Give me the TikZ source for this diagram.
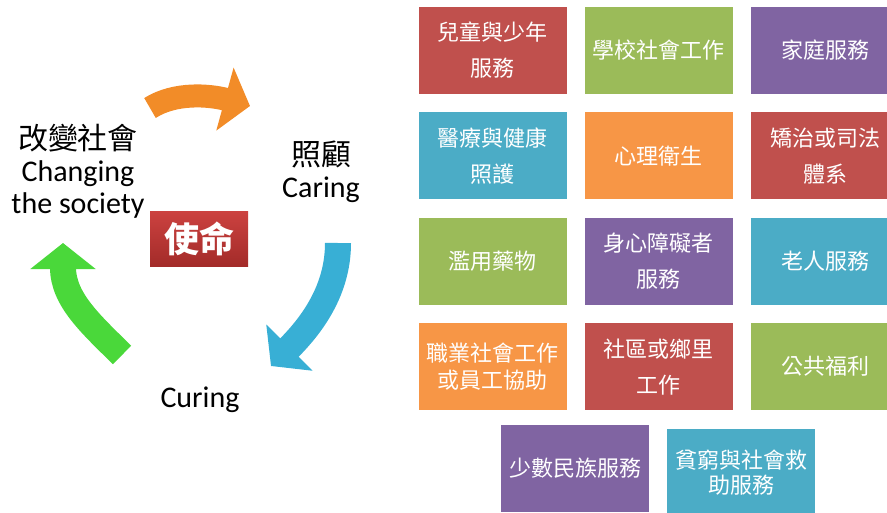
\documentclass[tikz,border=0pt]{standalone}
\usepackage{fontspec}
\setmainfont{Carlito}
\newfontfamily\cjk{Noto Sans CJK TC}
\usepackage{xcolor}
\usetikzlibrary{positioning,arrows.meta}

\definecolor{cred}{HTML}{C0504D}
\definecolor{cgreen}{HTML}{9BBB59}
\definecolor{cpurple}{HTML}{8064A2}
\definecolor{cteal}{HTML}{4BACC6}
\definecolor{corange}{HTML}{F79646}
\definecolor{arrorange}{HTML}{F28C28}
\definecolor{arrgreen}{HTML}{4AD83A}
\definecolor{arrblue}{HTML}{38AFD5}
\definecolor{misstop}{HTML}{CC4240}
\definecolor{missbot}{HTML}{A32B29}

\tikzset{
    box/.style={minimum width=148pt, minimum height=87pt, inner sep=0pt,
        text=white, align=center, font=\cjk\fontsize{22}{36}\selectfont},
    label/.style={align=center, font=\fontsize{30}{32}\selectfont},
    bigarrow/.style={line width=26pt, -{Triangle[width=64pt,length=26pt]}},
}

\begin{document}
\begin{tikzpicture}[x=1pt,y=-1pt]
        \clip (0,0) rectangle (887,512);
        % service fields
        \node (kids) [box, fill=cred] at (492.5,50.5) {兒童與少年\\服務};
        \node (school) [box, fill=cgreen, right = 18pt of kids] {學校社會工作};
        \node (family) [box, fill=cpurple, right = 18pt of school] {家庭服務};
        \node (medical) [box, fill=cteal, below = 18pt of kids] {醫療與健康\\照護};
        \node (mental) [box, fill=corange, right = 18pt of medical] {心理衛生};
        \node (justice) [box, fill=cred, right = 18pt of mental] {矯治或司法\\體系};
        \node (drugs) [box, fill=cgreen, below = 18pt of medical] {濫用藥物};
        \node (disabled) [box, fill=cpurple, right = 18pt of drugs] {身心障礙者\\服務};
        \node (elderly) [box, fill=cteal, right = 18pt of disabled] {老人服務};
        \node (career) [box, fill=corange, below = 18pt of drugs,
            font=\cjk\fontsize{22}{27}\selectfont] {職業社會工作\\或員工協助};
        \node (community) [box, fill=cred, right = 18pt of career] {社區或鄉里\\工作};
        \node (welfare) [box, fill=cgreen, right = 18pt of community] {公共福利};
        \node (minority) [box, fill=cpurple] at (575,468.5) {少數民族服務};
        \node (poverty) [box, fill=cteal, right = 18pt of minority, yshift=-4pt,
            font=\cjk\fontsize{22}{25}\selectfont] {貧窮與社會救\\助服務};
        % mission cycle
        \node (change) [label] at (78,171) {{\cjk 改變社會}\\Changing\\the society};
        \node (care) [label] at (321,172) {{\cjk 照顧}\\Caring};
        \node (cure) [label, anchor=base] at (200,407) {Curing};
        \node (mission) [minimum width=98pt, minimum height=55pt, inner sep=0pt,
            top color=misstop, bottom color=missbot, text=white,
            font=\cjk\bfseries\fontsize{35}{35}\selectfont] at (199,238.5) {使命};
        \coordinate (o1) at (150,108);
        \coordinate (o2) at (250,106);
        \coordinate (b1) at (338,243);
        \coordinate (b2) at (271,366);
        \coordinate (g1) at (122,355);
        \coordinate (g2) at (63,243);
        \draw [bigarrow, line width=23pt, draw=arrorange] (o1) .. controls (175,92) and (210,95) .. (o2);
        \draw [bigarrow, draw=arrblue] (b1) .. controls (338,290) and (312,325) .. (b2);
        \draw [bigarrow, draw=arrgreen] (g1) .. controls (92,325) and (63,300) .. (g2);
    \end{tikzpicture}
\end{document}
